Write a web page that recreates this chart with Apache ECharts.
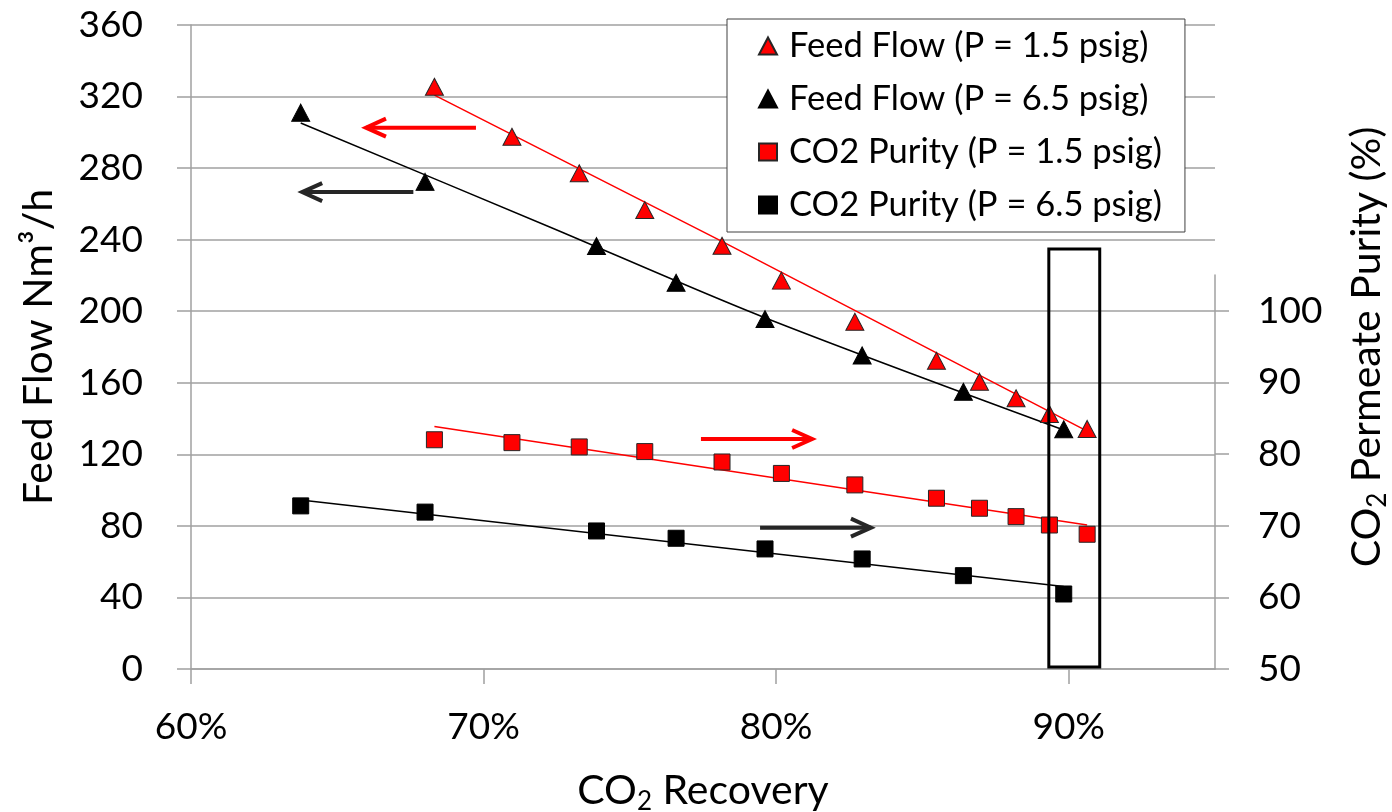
<!DOCTYPE html>
<html><head><meta charset="utf-8">
<script src="https://cdn.jsdelivr.net/npm/echarts@6/dist/echarts.min.js"></script>
<style>html,body{margin:0;padding:0;background:#fff}#c{width:1392px;height:812px}</style>
</head><body><div id="c"></div>
<script>
// ---- data (x = CO2 recovery in %) ----
const recoveryLow  = [68.32, 70.97, 73.27, 75.51, 78.15, 80.18, 82.69, 85.48, 86.95, 88.20, 89.34, 90.63];
const feedFlowLow  = [325.5, 297.5, 277.1, 256.6, 236.6, 217.1, 194.1, 172.3, 160.6, 151.3, 142.5, 134.2];
const purityLow    = [82.0, 81.6, 81.0, 80.35, 78.9, 77.3, 75.7, 73.84, 72.44, 71.27, 70.1, 68.81];
const recoveryHigh = [63.75, 68.0, 73.86, 76.58, 79.62, 82.94, 86.40, 89.83];
const feedFlowHigh = [311.0, 272.3, 236.4, 215.9, 195.6, 175.3, 155.0, 134.0];
const purityHigh   = [72.77, 71.9, 69.27, 68.25, 66.76, 65.36, 63.03, 60.47];
// trend lines
const trendFlowLowX   = [68.32, 78.08, 90.63];
const trendFlowLowY   = [320.8, 239.6, 133.0];
const trendFlowHighX  = [63.75, 72.26, 79.55, 89.83];
const trendFlowHighY  = [305.2, 247.1, 196.8, 133.6];
const trendPurLowX    = [68.32, 90.63];
const trendPurLowY    = [83.84, 70.1];
const trendPurHighX   = [63.75, 89.83];
const trendPurHighY   = [73.6, 61.5];
// annotations (data units of left axis): [xFrom, y, xTo, y]
const redArrows   = [[69.74, 302.6, 65.98, 302.6], [77.43, 128.6, 81.23, 128.6]];
const darkArrows  = [[67.60, 266.6, 63.80, 266.6], [79.45, 79.0, 83.24, 79.0]];
const highlightBox = [[89.32, 1.1, 91.06, 234.8]];
// axes
const xTicks = [60, 70, 80, 90];
const rightTicks = [50, 60, 70, 80, 90, 100];
const names = ['Feed Flow (P = 1.5 psig)', 'Feed Flow (P = 6.5 psig)', 'CO2 Purity (P = 1.5 psig)', 'CO2 Purity (P = 6.5 psig)'];

const FONT = 'Lato';
const GRAY = '#a0a0a0';
const zip = (a, b) => a.map((v, i) => [v, b[i]]);

const chart = echarts.init(document.getElementById('c'), null, {renderer: 'canvas'});

function arrowItem(params, api) {
  const p1 = api.coord([api.value(0), api.value(1)]);
  const p2 = api.coord([api.value(2), api.value(3)]);
  const dir = Math.sign(p2[0] - p1[0]);
  const color = api.visual('color');
  return {
    type: 'group',
    children: [
      {type: 'line', shape: {x1: p1[0], y1: p1[1], x2: p2[0], y2: p2[1]}, style: {stroke: color, lineWidth: 4}},
      {type: 'polyline', shape: {points: [[p2[0] - dir * 20, p2[1] - 9], [p2[0], p2[1]], [p2[0] - dir * 20, p2[1] + 9]]},
       style: {stroke: color, lineWidth: 4, fill: 'none', lineJoin: 'miter'}}
    ]
  };
}

const titleRich = {
  a: {fontFamily: FONT, fontSize: 41, color: '#000', lineHeight: 48},
  s: {fontFamily: FONT, fontSize: 26, color: '#000', lineHeight: 26, verticalAlign: 'bottom'}
};

const option = {
  animation: false,
  backgroundColor: '#fff',
  textStyle: {fontFamily: FONT},
  grid: [
    {left: 191, right: 177, top: 25, bottom: 143, containLabel: false, outerBoundsMode: 'none'},
    {left: 191, right: 177, top: 275, bottom: 143, containLabel: false, outerBoundsMode: 'none'}
  ],
  legend: {
    data: [
      {name: names[0], icon: 'triangle'},
      {name: names[1], icon: 'triangle'},
      {name: names[2], icon: 'rect'},
      {name: names[3], icon: 'rect'}
    ],
    orient: 'vertical',
    left: 727, top: 19,
    itemWidth: 18, itemHeight: 17, itemGap: 17,
    padding: [9, 23, 9, 31],
    backgroundColor: '#fff',
    borderColor: '#404040', borderWidth: 1,
    textStyle: {fontFamily: FONT, fontSize: 34.5, color: '#000', lineHeight: 36, padding: [0, 0, 0, 7]},
    selectedMode: false
  },
  xAxis: [
    {
      gridIndex: 0, type: 'value', min: 60, max: 95, interval: 10,
      axisLine: {show: true, lineStyle: {color: GRAY, width: 1.5}},
      axisTick: {show: true, length: 15, lineStyle: {color: GRAY, width: 1.5}, customValues: xTicks},
      axisLabel: {customValues: xTicks, formatter: v => v + '%', fontFamily: FONT, fontSize: 37, color: '#000', margin: 40},
      splitLine: {show: false},
      name: '{a|CO}{s|2}{a| Recovery}', nameLocation: 'middle', nameGap: 98,
      nameTextStyle: {rich: titleRich}
    },
    {gridIndex: 1, type: 'value', min: 60, max: 95, show: false}
  ],
  yAxis: [
    {
      gridIndex: 0, type: 'value', position: 'left', min: 0, max: 360, interval: 40,
      axisLine: {show: true, lineStyle: {color: GRAY, width: 1.5}},
      axisTick: {show: true, length: 14, lineStyle: {color: GRAY, width: 1.5}},
      axisLabel: {fontFamily: FONT, fontSize: 37, color: '#000', margin: 48},
      splitLine: {show: true, lineStyle: {color: GRAY, width: 1.5}},
      name: 'Feed Flow Nm³/h', nameLocation: 'middle', nameGap: 128,
      nameTextStyle: {fontFamily: FONT, fontSize: 41, color: '#000', lineHeight: 48}
    },
    {
      gridIndex: 0, type: 'value', position: 'right', min: 0, max: 1,
      axisLine: {show: false}, axisTick: {show: false}, axisLabel: {show: false}, splitLine: {show: false},
      name: '{a|CO}{s|2}{a| Permeate Purity (%)}', nameLocation: 'middle', nameGap: 128,
      nameTextStyle: {rich: titleRich}
    },
    {
      gridIndex: 1, type: 'value', position: 'right', min: 50, max: 105, interval: 10,
      axisLine: {show: true, lineStyle: {color: GRAY, width: 1.5}},
      axisTick: {show: true, length: 14, lineStyle: {color: GRAY, width: 1.5}, customValues: rightTicks},
      axisLabel: {customValues: rightTicks, fontFamily: FONT, fontSize: 37, color: '#000', margin: 43},
      splitLine: {show: false}
    }
  ],
  series: [
    {type: 'line', xAxisIndex: 0, yAxisIndex: 0, data: zip(trendFlowLowX, trendFlowLowY), showSymbol: false, silent: true,
     lineStyle: {color: '#ff0000', width: 1.5}, z: 3},
    {type: 'line', xAxisIndex: 0, yAxisIndex: 0, data: zip(trendFlowHighX, trendFlowHighY), showSymbol: false, silent: true, smooth: 0.3,
     lineStyle: {color: '#000', width: 1.5}, z: 3},
    {type: 'line', xAxisIndex: 1, yAxisIndex: 2, data: zip(trendPurLowX, trendPurLowY), showSymbol: false, silent: true,
     lineStyle: {color: '#ff0000', width: 1.5}, z: 3},
    {type: 'line', xAxisIndex: 1, yAxisIndex: 2, data: zip(trendPurHighX, trendPurHighY), showSymbol: false, silent: true,
     lineStyle: {color: '#000', width: 1.5}, z: 3},
    {name: names[0], type: 'scatter', xAxisIndex: 0, yAxisIndex: 0, symbol: 'triangle', symbolSize: [18, 17],
     data: zip(recoveryLow, feedFlowLow), itemStyle: {color: '#ff0000', borderColor: '#262626', borderWidth: 1, opacity: 1}, z: 5},
    {name: names[1], type: 'scatter', xAxisIndex: 0, yAxisIndex: 0, symbol: 'triangle', symbolSize: [18, 17],
     data: zip(recoveryHigh, feedFlowHigh), itemStyle: {color: '#000', borderColor: '#000', borderWidth: 1, opacity: 1}, z: 5},
    {name: names[2], type: 'scatter', xAxisIndex: 1, yAxisIndex: 2, symbol: 'rect', symbolSize: 16,
     data: zip(recoveryLow, purityLow), itemStyle: {color: '#ff0000', borderColor: '#262626', borderWidth: 1, opacity: 1}, z: 5},
    {name: names[3], type: 'scatter', xAxisIndex: 1, yAxisIndex: 2, symbol: 'rect', symbolSize: 16,
     data: zip(recoveryHigh, purityHigh), itemStyle: {color: '#000', borderColor: '#000', borderWidth: 1, opacity: 1}, z: 5},
    {type: 'custom', xAxisIndex: 0, yAxisIndex: 0, data: redArrows, renderItem: arrowItem, silent: true,
     itemStyle: {color: '#ff0000'}, z: 6, clip: false},
    {type: 'custom', xAxisIndex: 0, yAxisIndex: 0, data: darkArrows, renderItem: arrowItem, silent: true,
     itemStyle: {color: '#262626'}, z: 6, clip: false},
    {type: 'custom', xAxisIndex: 0, yAxisIndex: 0, data: highlightBox, silent: true, z: 7, clip: false,
     renderItem: function (params, api) {
       const a = api.coord([api.value(0), api.value(1)]);
       const b = api.coord([api.value(2), api.value(3)]);
       return {type: 'rect', shape: {x: a[0], y: b[1], width: b[0] - a[0], height: a[1] - b[1]},
               style: {fill: 'none', stroke: '#000', lineWidth: 3}};
     }}
  ]
};
chart.setOption(option);
</script>
</body></html>
